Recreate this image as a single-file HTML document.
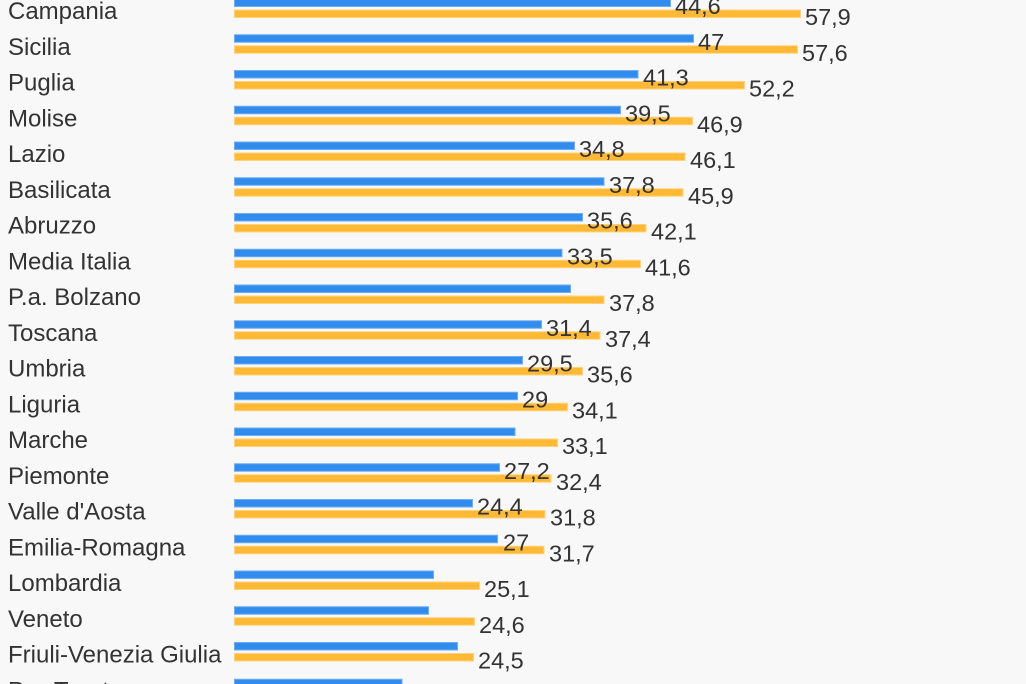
<!DOCTYPE html>
<html><head><meta charset="utf-8"><style>
html,body{margin:0;padding:0;background:#f8f8f8;}
svg{display:block;}
text{font-family:"Liberation Sans",Arial,sans-serif;font-size:23.5px;fill:#333;}
text.c{font-size:24px;}
.b{fill:#318ced;stroke:#6aaef5;stroke-width:1;}
.o{fill:#ffb935;stroke:#ffd27a;stroke-width:1;}
</style></head><body>
<svg width="1026" height="684" viewBox="0 0 1026 684" xmlns="http://www.w3.org/2000/svg">
<rect width="1026" height="684" fill="#f8f8f8"/>
<g>
<text class="c" x="8" y="19">Campania</text>
<rect class="b" x="234.5" y="-1" width="436" height="7.5"/><rect class="o" x="234.5" y="10" width="566" height="7.5"/>
<text x="675" y="14">44,6</text><text x="805" y="25">57,9</text>

<text class="c" x="8" y="54.75">Sicilia</text>
<rect class="b" x="234.5" y="34.75" width="459" height="7.5"/><rect class="o" x="234.5" y="45.75" width="563" height="7.5"/>
<text x="698" y="49.75">47</text><text x="802" y="60.75">57,6</text>

<text class="c" x="8" y="90.5">Puglia</text>
<rect class="b" x="234.5" y="70.5" width="403.5" height="7.5"/><rect class="o" x="234.5" y="81.5" width="510" height="7.5"/>
<text x="643" y="85.5">41,3</text><text x="749" y="96.5">52,2</text>

<text class="c" x="8" y="126.25">Molise</text>
<rect class="b" x="234.5" y="106.25" width="386" height="7.5"/><rect class="o" x="234.5" y="117.25" width="458" height="7.5"/>
<text x="625" y="121.25">39,5</text><text x="697" y="132.25">46,9</text>

<text class="c" x="8" y="162">Lazio</text>
<rect class="b" x="234.5" y="142" width="340" height="7.5"/><rect class="o" x="234.5" y="153" width="450.5" height="7.5"/>
<text x="579" y="157">34,8</text><text x="690" y="168">46,1</text>

<text class="c" x="8" y="197.75">Basilicata</text>
<rect class="b" x="234.5" y="177.75" width="369.5" height="7.5"/><rect class="o" x="234.5" y="188.75" width="448.5" height="7.5"/>
<text x="609" y="192.75">37,8</text><text x="688" y="203.75">45,9</text>

<text class="c" x="8" y="233.5">Abruzzo</text>
<rect class="b" x="234.5" y="213.5" width="348" height="7.5"/><rect class="o" x="234.5" y="224.5" width="411.5" height="7.5"/>
<text x="587" y="228.5">35,6</text><text x="651" y="239.5">42,1</text>

<text class="c" x="8" y="269.25">Media Italia</text>
<rect class="b" x="234.5" y="249.25" width="327.5" height="7.5"/><rect class="o" x="234.5" y="260.25" width="406" height="7.5"/>
<text x="567" y="264.25">33,5</text><text x="645" y="275.25">41,6</text>

<text class="c" x="8" y="305">P.a. Bolzano</text>
<rect class="b" x="234.5" y="285" width="336" height="7.5"/><rect class="o" x="234.5" y="296" width="369.5" height="7.5"/>
<text x="609" y="311">37,8</text>

<text class="c" x="8" y="340.75">Toscana</text>
<rect class="b" x="234.5" y="320.75" width="307" height="7.5"/><rect class="o" x="234.5" y="331.75" width="365.5" height="7.5"/>
<text x="546" y="335.75">31,4</text><text x="605" y="346.75">37,4</text>

<text class="c" x="8" y="376.5">Umbria</text>
<rect class="b" x="234.5" y="356.5" width="288" height="7.5"/><rect class="o" x="234.5" y="367.5" width="348" height="7.5"/>
<text x="527" y="371.5">29,5</text><text x="587" y="382.5">35,6</text>

<text class="c" x="8" y="412.25">Liguria</text>
<rect class="b" x="234.5" y="392.25" width="283" height="7.5"/><rect class="o" x="234.5" y="403.25" width="333" height="7.5"/>
<text x="522" y="407.25">29</text><text x="572" y="418.25">34,1</text>

<text class="c" x="8" y="448">Marche</text>
<rect class="b" x="234.5" y="428" width="280.5" height="7.5"/><rect class="o" x="234.5" y="439" width="323" height="7.5"/>
<text x="562" y="454">33,1</text>

<text class="c" x="8" y="483.75">Piemonte</text>
<rect class="b" x="234.5" y="463.75" width="265" height="7.5"/><rect class="o" x="234.5" y="474.75" width="316.5" height="7.5"/>
<text x="504" y="478.75">27,2</text><text x="556" y="489.75">32,4</text>

<text class="c" x="8" y="519.5">Valle d'Aosta</text>
<rect class="b" x="234.5" y="499.5" width="238" height="7.5"/><rect class="o" x="234.5" y="510.5" width="310.5" height="7.5"/>
<text x="477" y="514.5">24,4</text><text x="550" y="525.5">31,8</text>

<text class="c" x="8" y="555.25">Emilia-Romagna</text>
<rect class="b" x="234.5" y="535.25" width="263" height="7.5"/><rect class="o" x="234.5" y="546.25" width="309.5" height="7.5"/>
<text x="503" y="550.25">27</text><text x="549" y="561.25">31,7</text>

<text class="c" x="8" y="591">Lombardia</text>
<rect class="b" x="234.5" y="571" width="199" height="7.5"/><rect class="o" x="234.5" y="582" width="245" height="7.5"/>
<text x="484" y="597">25,1</text>

<text class="c" x="8" y="626.75">Veneto</text>
<rect class="b" x="234.5" y="606.75" width="194" height="7.5"/><rect class="o" x="234.5" y="617.75" width="240" height="7.5"/>
<text x="479" y="632.75">24,6</text>

<text class="c" x="8" y="662.5">Friuli-Venezia Giulia</text>
<rect class="b" x="234.5" y="642.5" width="223" height="7.5"/><rect class="o" x="234.5" y="653.5" width="239" height="7.5"/>
<text x="478" y="668.5">24,5</text>

<text class="c" x="8" y="698.25">P.a. Trento</text>
<rect class="b" x="234.5" y="679.25" width="167.5" height="7.5"/>
</g>
</svg>
</body></html>
